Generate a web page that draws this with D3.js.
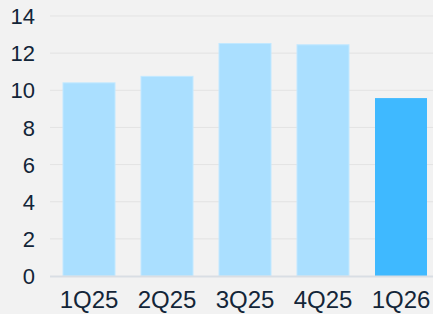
<!DOCTYPE html>
<html>
<head>
<meta charset="utf-8">
<script src="https://cdn.jsdelivr.net/npm/d3@7"></script>
<style>
  body { margin: 0; background: #f2f2f2; }
  svg { display: block; font-family: "Liberation Sans", Arial, sans-serif; }
</style>
</head>
<body>
<div id="chart"></div>
<script>
const quarters = ["1Q25", "2Q25", "3Q25", "4Q25", "1Q26"];
const values = [10.4, 10.75, 12.52, 12.45, 9.58];
const yTicks = [0, 2, 4, 6, 8, 10, 12, 14];

const width = 433, height = 314;

const svg = d3.select("#chart")
  .append("svg")
    .attr("width", width)
    .attr("height", height);

svg.append("rect")
  .attr("width", width)
  .attr("height", height)
  .attr("fill", "#f2f2f2");

const x = d3.scaleBand()
  .domain(quarters)
  .range([50, 440])
  .paddingInner(1 / 3)
  .paddingOuter(1 / 6);

const y = d3.scaleLinear()
  .domain([0, 14])
  .range([276, 16]);

// gridlines
svg.append("g")
  .selectAll("line")
  .data(yTicks.filter(d => d > 0))
  .enter().append("line")
    .attr("x1", 50)
    .attr("x2", width)
    .attr("y1", d => y(d))
    .attr("y2", d => y(d))
    .attr("stroke", "#e3e3e3")
    .attr("stroke-width", 1);

// y labels
svg.append("g")
  .selectAll("text")
  .data(yTicks)
  .enter().append("text")
    .attr("x", 35)
    .attr("y", d => y(d))
    .attr("dy", "0.37em")
    .attr("text-anchor", "end")
    .style("font-size", "22px")
    .attr("fill", "#132538")
    .text(d => d);

// bars
svg.append("g")
  .selectAll("rect")
  .data(values)
  .enter().append("rect")
    .attr("x", (d, i) => x(quarters[i]))
    .attr("y", d => y(d))
    .attr("width", x.bandwidth())
    .attr("height", d => y(0) - y(d))
    .attr("fill", (d, i) => i === quarters.length - 1 ? "#3fb9ff" : "#aadfff")
    .attr("stroke", (d, i) => i === quarters.length - 1 ? "none" : "#c2e8ff")
    .attr("stroke-width", 1);

// baseline
svg.append("line")
  .attr("x1", 50)
  .attr("x2", width)
  .attr("y1", y(0) + 0.5)
  .attr("y2", y(0) + 0.5)
  .attr("stroke", "#d9dee4")
  .attr("stroke-width", 2);

// x labels
svg.append("g")
  .selectAll("text")
  .data(quarters)
  .enter().append("text")
    .attr("x", d => x(d) + x.bandwidth() / 2)
    .attr("y", 308)
    .attr("text-anchor", "middle")
    .style("font-size", "24px")
    .attr("fill", "#132538")
    .text(d => d);
</script>
</body>
</html>
